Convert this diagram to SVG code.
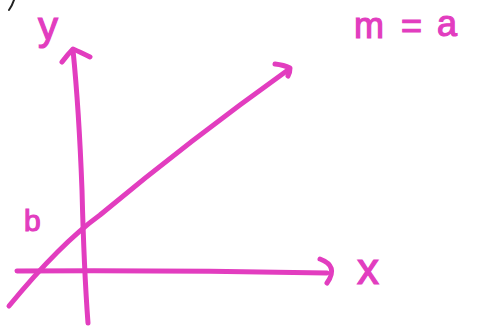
<svg xmlns="http://www.w3.org/2000/svg" width="487" height="327" viewBox="0 0 487 327">
<style>
.ink{fill:none;stroke:#e23dbf;stroke-linecap:round;stroke-linejoin:round}
.thick{stroke-width:5}
.lbl{font-family:"Liberation Sans","DejaVu Sans",sans-serif;fill:#e23dbf;stroke:#e23dbf;stroke-width:1.2}
</style>
<rect width="487" height="327" fill="#ffffff"/>
<g id="top-fragment">
<path d="M14,0 Q12,6 9,10" fill="none" stroke="#222" stroke-width="2" stroke-linecap="round"/>
</g>
<g id="y-axis">
<path class="ink thick" d="M88,323 Q84,270 82,190 Q79,110 73,50"/>
<path class="ink thick" d="M62,62 Q68,54 73,49 Q80,52 90,57"/>
<text class="lbl" x="38" y="40" font-size="40">y</text>
</g>
<g id="x-axis">
<path class="ink thick" d="M17,271 Q170,270 327,273"/>
<path class="ink thick" d="M320,259 Q339,266 327,283"/>
<text class="lbl" x="357" y="284" font-size="44">x</text>
</g>
<g id="line">
<path class="ink thick" d="M9,306 Q60,244 100,215 Q190,140 288,70"/>
<path class="ink thick" d="M275,64 Q284,65 290,68 Q290,73 288,76"/>
</g>
<g id="label-b">
<text class="lbl" x="24" y="231" font-size="30">b</text>
</g>
<g id="label-m-eq-a">
<text class="lbl" font-size="36"><tspan x="354" y="38">m</tspan><tspan x="401" y="38">=</tspan><tspan x="437" y="36">a</tspan></text>
</g>
</svg>
